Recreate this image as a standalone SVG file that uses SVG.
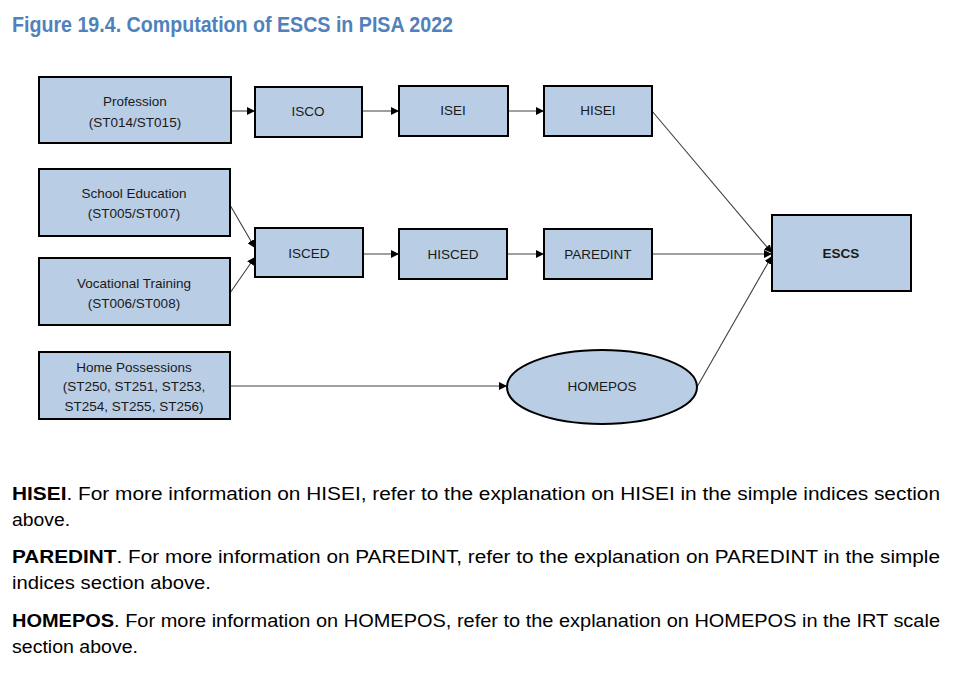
<svg xmlns="http://www.w3.org/2000/svg" width="967" height="673" viewBox="0 0 967 673">
<style>
.box{fill:#b9cde5;stroke:#000;stroke-width:2}
.lbl{font-family:"Liberation Sans",Arial,sans-serif;font-size:13.5px;fill:#1a1a1a;text-anchor:middle}
.conn{stroke:#404040;stroke-width:1.1;fill:none}
.body{font-family:"Liberation Sans Narrow","Liberation Sans",Arial,sans-serif;font-size:17.5px;fill:#000}
.title{font-family:"Liberation Sans Narrow","Liberation Sans",Arial,sans-serif;font-size:22px;font-weight:bold;fill:#4f81bd}
</style>
<defs>
<marker id="ah" viewBox="0 0 10 10" refX="10" refY="5" markerWidth="8" markerHeight="8" markerUnits="userSpaceOnUse" orient="auto">
<path d="M0,0 L10,5 L0,10 z" fill="#000"/>
</marker>
</defs>
<rect width="967" height="673" fill="#fff"/>
<text class="title" x="12" y="32" textLength="441" lengthAdjust="spacingAndGlyphs">Figure 19.4. Computation of ESCS in PISA 2022</text>

<g id="connectors">
<line class="conn" x1="231" y1="111" x2="255" y2="111" marker-end="url(#ah)"/>
<line class="conn" x1="362" y1="111" x2="399" y2="111" marker-end="url(#ah)"/>
<line class="conn" x1="508" y1="111" x2="544" y2="111" marker-end="url(#ah)"/>
<line class="conn" x1="652" y1="111" x2="772" y2="253" marker-end="url(#ah)"/>
<line class="conn" x1="230" y1="205" x2="255" y2="248" marker-end="url(#ah)"/>
<line class="conn" x1="230" y1="293" x2="255" y2="257" marker-end="url(#ah)"/>
<line class="conn" x1="363" y1="254" x2="399" y2="254" marker-end="url(#ah)"/>
<line class="conn" x1="507" y1="254" x2="544" y2="254" marker-end="url(#ah)"/>
<line class="conn" x1="652" y1="254" x2="772" y2="254" marker-end="url(#ah)"/>
<line class="conn" x1="697" y1="387" x2="772" y2="256" marker-end="url(#ah)"/>
<line class="conn" x1="230" y1="386" x2="507" y2="386" marker-end="url(#ah)"/>
</g>

<g id="profession"><rect class="box" x="39" y="77" width="192" height="66"/>
<text class="lbl" x="135" y="106">Profession</text><text class="lbl" x="135" y="127">(ST014/ST015)</text></g>
<g id="isco"><rect class="box" x="255" y="87" width="107" height="50"/><text class="lbl" x="308" y="116">ISCO</text></g>
<g id="isei"><rect class="box" x="399" y="86" width="109" height="50"/><text class="lbl" x="453" y="115">ISEI</text></g>
<g id="hisei"><rect class="box" x="544" y="86" width="108" height="50"/><text class="lbl" x="598" y="115">HISEI</text></g>
<g id="school"><rect class="box" x="39" y="169" width="191" height="67"/>
<text class="lbl" x="134" y="198">School Education</text><text class="lbl" x="134" y="218">(ST005/ST007)</text></g>
<g id="vocational"><rect class="box" x="39" y="258" width="191" height="67"/>
<text class="lbl" x="134" y="288">Vocational Training</text><text class="lbl" x="134" y="308">(ST006/ST008)</text></g>
<g id="isced"><rect class="box" x="255" y="228" width="108" height="49"/><text class="lbl" x="309" y="258">ISCED</text></g>
<g id="hisced"><rect class="box" x="399" y="229" width="108" height="50"/><text class="lbl" x="453" y="259">HISCED</text></g>
<g id="paredint"><rect class="box" x="544" y="229" width="108" height="50"/><text class="lbl" x="598" y="259">PAREDINT</text></g>
<g id="escs"><rect class="box" x="772" y="215" width="139" height="76"/><text class="lbl" x="841" y="258" font-weight="bold">ESCS</text></g>
<g id="homeposs"><rect class="box" x="39" y="352" width="191" height="67"/>
<text class="lbl" x="134" y="372">Home Possessions</text><text class="lbl" x="134" y="391">(ST250, ST251, ST253,</text><text class="lbl" x="134" y="411">ST254, ST255, ST256)</text></g>
<g id="homepos"><ellipse class="box" cx="602" cy="387" rx="95" ry="37"/><text class="lbl" x="602" y="391">HOMEPOS</text></g>

<text class="body" x="12" y="500" textLength="928" lengthAdjust="spacingAndGlyphs"><tspan font-weight="bold">HISEI</tspan>. For more information on HISEI, refer to the explanation on HISEI in the simple indices section</text>
<text class="body" x="12" y="526" textLength="58" lengthAdjust="spacingAndGlyphs">above.</text>
<text class="body" x="12" y="563" textLength="928" lengthAdjust="spacingAndGlyphs"><tspan font-weight="bold">PAREDINT</tspan>. For more information on PAREDINT, refer to the explanation on PAREDINT in the simple</text>
<text class="body" x="12" y="589" textLength="199" lengthAdjust="spacingAndGlyphs">indices section above.</text>
<text class="body" x="12" y="627" textLength="928" lengthAdjust="spacingAndGlyphs"><tspan font-weight="bold">HOMEPOS</tspan>. For more information on HOMEPOS, refer to the explanation on HOMEPOS in the IRT scale</text>
<text class="body" x="12" y="653" textLength="126" lengthAdjust="spacingAndGlyphs">section above.</text>
</svg>
